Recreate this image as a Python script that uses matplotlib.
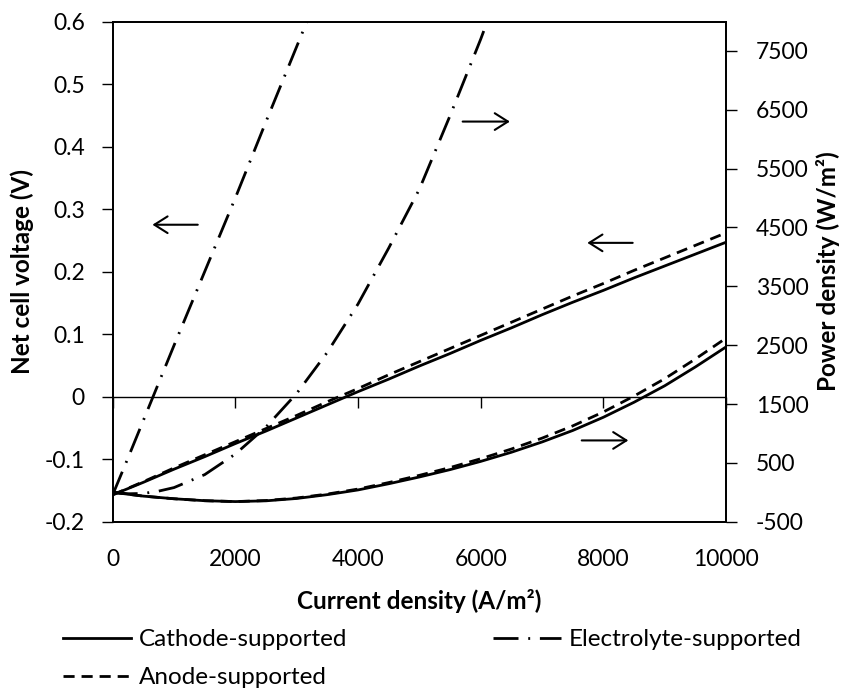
import numpy as np
import matplotlib
matplotlib.use('Agg')
import matplotlib.pyplot as plt

plt.rcParams['font.family'] = ['Lato', 'DejaVu Sans']
plt.rcParams['axes.unicode_minus'] = False

# Current density (A/m2)
i_cs = [0, 500, 1000, 1500, 2000, 2500, 3000, 3500, 4000, 4500, 5000, 5500,
        6000, 6500, 7000, 7500, 8000, 8500, 9000, 9500, 10000]
# Net cell voltage (V)
v_cat = [-0.157, -0.137, -0.116, -0.096, -0.075, -0.055, -0.034, -0.013, 0.008,
         0.028, 0.049, 0.069, 0.090, 0.110, 0.131, 0.151, 0.170, 0.190, 0.209,
         0.228, 0.247]
v_ano = [-0.157, -0.136, -0.114, -0.093, -0.072, -0.051, -0.030, -0.008, 0.013,
         0.035, 0.056, 0.077, 0.098, 0.119, 0.140, 0.161, 0.181, 0.202, 0.222,
         0.242, 0.262]
# Power density (W/m2)
p_cat = [0, -65, -110, -143, -158, -145, -105, -40, 40, 145, 260, 385, 525,
         680, 855, 1050, 1275, 1530, 1810, 2130, 2470]
p_ano = [0, -65, -110, -143, -158, -140, -97, -30, 55, 165, 288, 420, 570,
         735, 920, 1128, 1365, 1635, 1930, 2265, 2620]

i_ele = [0, 250, 500, 750, 1000, 1500, 2000, 2500, 3000, 3500, 4000, 4500,
         5000, 5500, 6000, 6500]
v_ele = [-0.157, -0.098, -0.038, 0.022, 0.082, 0.200, 0.318, 0.440, 0.560,
         0.680, 0.800, 0.920, 1.040, 1.160, 1.280, 1.400]
p_ele = [0, -25, -20, 20, 80, 300, 650, 1110, 1680, 2380, 3200, 4150, 5150,
         6400, 7700, 9100]

xticks = [0, 2000, 4000, 6000, 8000, 10000]
yticks_v = [-0.2, -0.1, 0, 0.1, 0.2, 0.3, 0.4, 0.5, 0.6]
yticks_p = [-500, 500, 1500, 2500, 3500, 4500, 5500, 6500, 7500]

fig = plt.figure(figsize=(8.46, 6.88), dpi=100)
ax = fig.add_axes([0.1332, 0.2417, 0.725, 0.727])
ax2 = ax.twinx()

solid = dict(color='black', lw=2, ls='-')
dashed = dict(color='black', lw=2, ls=(0, (4, 2.5)))
dashdot = dict(color='black', lw=2, ls=(0, (9, 3.5, 0.7, 3.5)))

# voltage (left axis)
ax.plot(i_cs, v_cat, **solid, label='Cathode-supported')
ax.plot(i_cs, v_ano, **dashed, label='Anode-supported')
ax.plot(i_ele, v_ele, **dashdot, label='Electrolyte-supported')

# power density (right axis)
ax2.plot(i_cs, p_cat, **solid)
ax2.plot(i_cs, p_ano, **dashed)
ax2.plot(i_ele, p_ele, **dashdot)

ax.set_xlim(0, 10000)
ax.set_ylim(-0.2, 0.6)
ax2.set_ylim(-500, 8000)
ax.set_xticks(xticks)
ax.set_yticks(yticks_v)
ax.set_yticklabels([f'{v:g}' for v in yticks_v])
ax2.set_yticks(yticks_p)

# x axis crosses at 0 V
ax.axhline(0, color='black', lw=1)
ax.plot(xticks, np.zeros(len(xticks)), ls='none', marker=3, ms=8, mew=1,
        color='black', clip_on=False)

ax.tick_params(axis='x', length=0, pad=19.5, labelsize=16.5)
ax.tick_params(axis='y', length=8, width=1, pad=12, labelsize=16.5)
ax2.tick_params(axis='y', length=8, width=1, pad=13.5, labelsize=16.5)
for a in (ax, ax2):
    for s in a.spines.values():
        s.set_linewidth(1.3)

ax.set_xlabel('Current density (A/m²)', fontsize=17.5, fontweight='bold', labelpad=13.5)
ax.set_ylabel('Net cell voltage (V)', fontsize=17.5, fontweight='bold', labelpad=8)
ax2.set_ylabel('Power density (W/m²)', fontsize=17.5, fontweight='bold', labelpad=5)

arrow = dict(arrowstyle='->,head_length=0.95,head_width=0.6', lw=1.5,
             color='black', mutation_scale=10, shrinkA=0, shrinkB=0)
ax.annotate('', xy=(648, 0.275), xytext=(1387, 0.275), arrowprops=arrow)
ax.annotate('', xy=(6476, 0.44), xytext=(5706, 0.44), arrowprops=arrow)
ax.annotate('', xy=(7738, 0.246), xytext=(8478, 0.246), arrowprops=arrow)
ax.annotate('', xy=(8407, -0.07), xytext=(7647, -0.07), arrowprops=arrow)

ax.legend(loc='upper left', bbox_to_anchor=(-0.0815, -0.215), ncol=2, frameon=False,
          fontsize=17.5, handlelength=2.8, handletextpad=0.33, columnspacing=6.0,
          labelspacing=0.7, borderaxespad=0, borderpad=0)

fig.savefig('out.png', dpi=100)
